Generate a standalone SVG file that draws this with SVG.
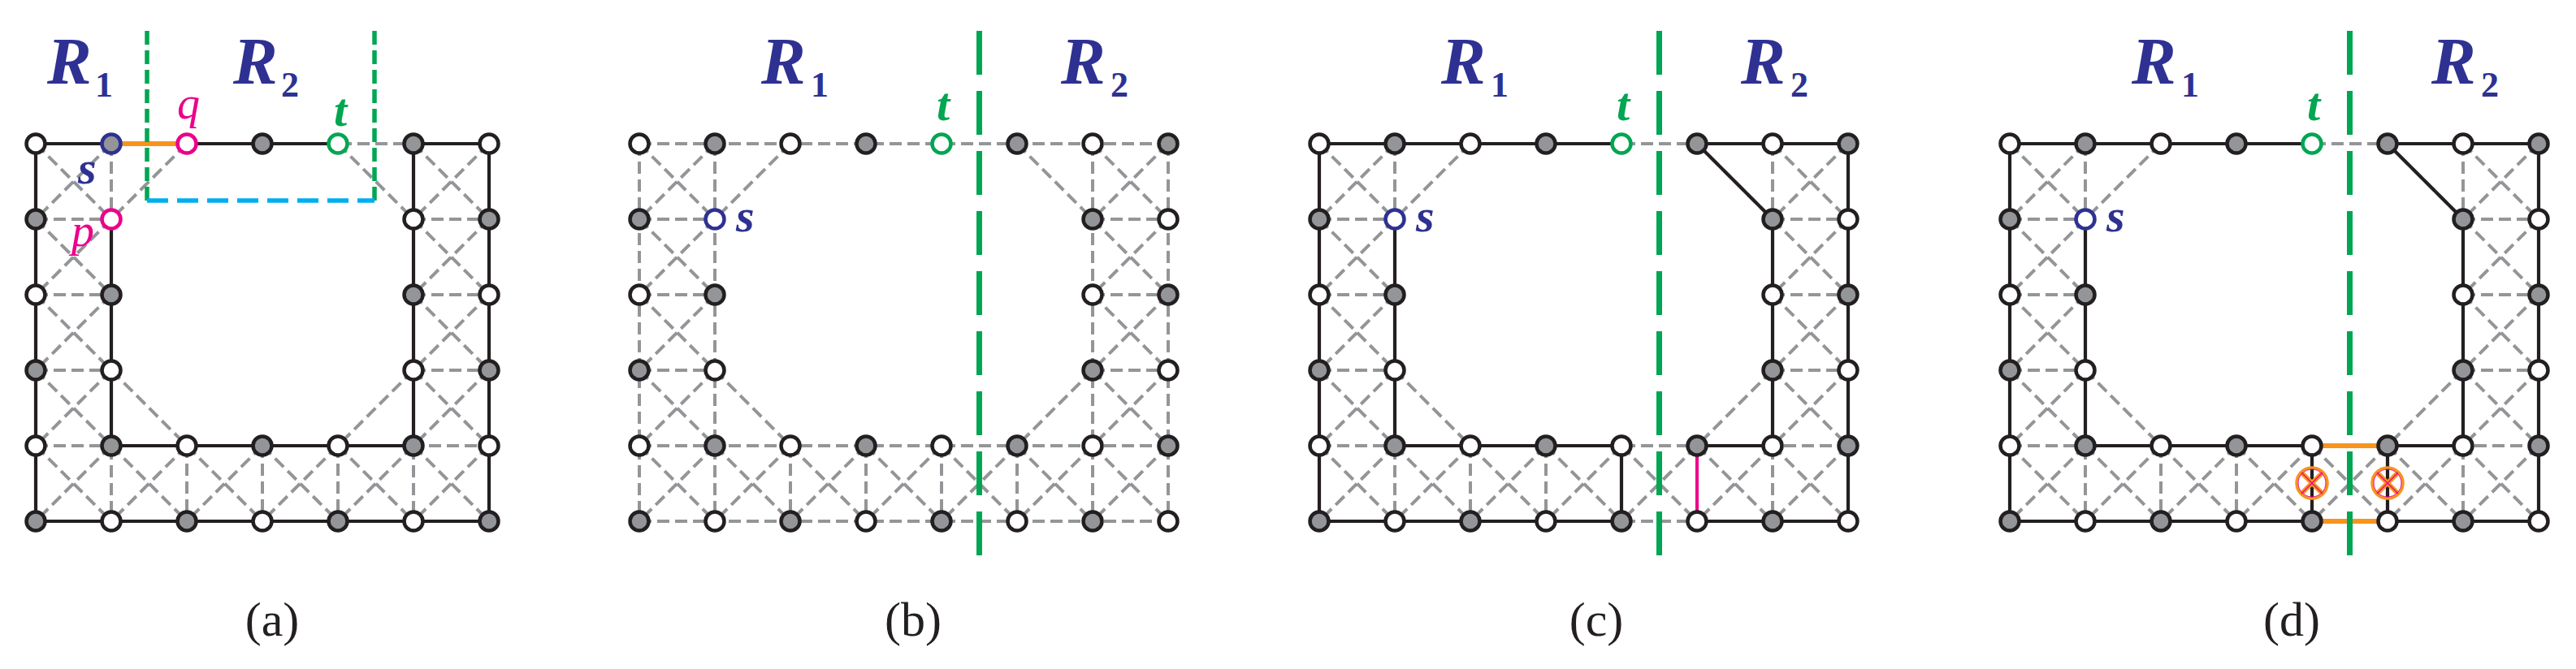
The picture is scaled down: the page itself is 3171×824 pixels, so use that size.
<svg xmlns="http://www.w3.org/2000/svg" width="3171" height="824" viewBox="0 0 3171 824">
<style>
.gr{fill:none;stroke:#939598;stroke-width:4;stroke-dasharray:15 7}
.bk{fill:none;stroke:#231f20;stroke-width:4.2}
.or{fill:none;stroke:#f7941d;stroke-width:6}
.pk{fill:none;stroke:#ec008c;stroke-width:4}
.grn{fill:none;stroke:#00a651;stroke-width:7;stroke-dasharray:54 20}
.grnA{fill:none;stroke:#00a651;stroke-width:5.5;stroke-dasharray:17 7}
.blu{fill:none;stroke:#00aeef;stroke-width:5.5;stroke-dasharray:26 11}
circle.w,circle.g{r:11.5;stroke:#231f20;stroke-width:4.5}
circle.w{fill:#fff}
circle.g{fill:#939598}
circle.sb{stroke:#2e3192}
circle.tg{stroke:#00a651}
circle.pq{stroke:#ec008c}
text{font-family:"Liberation Serif","Times New Roman",serif}
.R{font-size:82px;font-weight:bold;font-style:italic;fill:#2e3192}
.sub{font-size:44px;font-weight:bold;fill:#2e3192}
.lt{font-size:58px;font-weight:bold;font-style:italic;fill:#00a651}
.ls{font-size:58px;font-weight:bold;font-style:italic;fill:#2e3192}
.lp{font-size:56px;font-style:italic;fill:#ec008c}
.cap{font-size:60px;fill:#231f20;text-anchor:middle}
</style>
<defs>
<path id="mesh8" d="M0,0H651M0,93H93M558,93H651M0,186H93M558,186H651M0,279H93M558,279H651M0,372H651M0,465H651M0,0V465M93,0V465M558,0V465M651,0V465M186,372V465M279,372V465M372,372V465M465,372V465M0,0L93,93M93,0L0,93M0,93L93,186M93,93L0,186M0,186L93,279M93,186L0,279M0,279L93,372M93,279L0,372M0,372L93,465M93,372L0,465M558,0L651,93M651,0L558,93M558,93L651,186M651,93L558,186M558,186L651,279M651,186L558,279M558,279L651,372M651,279L558,372M558,372L651,465M651,372L558,465M93,372L186,465M186,372L93,465M186,372L279,465M279,372L186,465M279,372L372,465M372,372L279,465M372,372L465,465M465,372L372,465M465,372L558,465M558,372L465,465M186,0L93,93M465,0L558,93M93,279L186,372M558,279L465,372"/>
<path id="mesh7" d="M0,0H558M0,93H93M465,93H558M0,186H93M465,186H558M0,279H93M465,279H558M0,372H558M0,465H558M0,0V465M93,0V465M465,0V465M558,0V465M186,372V465M279,372V465M372,372V465M0,0L93,93M93,0L0,93M0,93L93,186M93,93L0,186M0,186L93,279M93,186L0,279M0,279L93,372M93,279L0,372M0,372L93,465M93,372L0,465M465,0L558,93M558,0L465,93M465,93L558,186M558,93L465,186M465,186L558,279M558,186L465,279M465,279L558,372M558,279L465,372M465,372L558,465M558,372L465,465M93,372L186,465M186,372L93,465M186,372L279,465M279,372L186,465M279,372L372,465M372,372L279,465M372,372L465,465M465,372L372,465M186,0L93,93M372,0L465,93M93,279L186,372M465,279L372,372"/>
</defs>

<!-- Panel (a) -->
<g id="panel-a" transform="translate(44,177)">
<g id="a-connectors">
<use href="#mesh7" class="gr"/>
<path class="bk" d="M0,0H93M186,0H372M465,0H558M0,0V465M93,93V372M93,372H465M0,465H558M465,0V372M558,0V465"/>
<path class="or" d="M93,0H186"/>
<path class="grnA" d="M137,-139V70M417,-139V70"/>
<path class="blu" d="M137,70H417"/>
</g>
<g id="a-nodes">
<g id="a-n00"><circle class="w" cx="0" cy="0"/></g>
<g id="a-s"><circle class="g sb" cx="93" cy="0"/></g>
<g id="a-q"><circle class="w pq" cx="186" cy="0"/></g>
<g id="a-n30"><circle class="g" cx="279" cy="0"/></g>
<g id="a-t"><circle class="w tg" cx="372" cy="0"/></g>
<g id="a-n50"><circle class="g" cx="465" cy="0"/></g>
<g id="a-n60"><circle class="w" cx="558" cy="0"/></g>
<g id="a-n01"><circle class="g" cx="0" cy="93"/></g>
<g id="a-p"><circle class="w pq" cx="93" cy="93"/></g>
<g id="a-n51"><circle class="w" cx="465" cy="93"/></g>
<g id="a-n61"><circle class="g" cx="558" cy="93"/></g>
<g id="a-n02"><circle class="w" cx="0" cy="186"/></g>
<g id="a-n12"><circle class="g" cx="93" cy="186"/></g>
<g id="a-n52"><circle class="g" cx="465" cy="186"/></g>
<g id="a-n62"><circle class="w" cx="558" cy="186"/></g>
<g id="a-n03"><circle class="g" cx="0" cy="279"/></g>
<g id="a-n13"><circle class="w" cx="93" cy="279"/></g>
<g id="a-n53"><circle class="w" cx="465" cy="279"/></g>
<g id="a-n63"><circle class="g" cx="558" cy="279"/></g>
<g id="a-n04"><circle class="w" cx="0" cy="372"/></g>
<g id="a-n14"><circle class="g" cx="93" cy="372"/></g>
<g id="a-n24"><circle class="w" cx="186" cy="372"/></g>
<g id="a-n34"><circle class="g" cx="279" cy="372"/></g>
<g id="a-n44"><circle class="w" cx="372" cy="372"/></g>
<g id="a-n54"><circle class="g" cx="465" cy="372"/></g>
<g id="a-n64"><circle class="w" cx="558" cy="372"/></g>
<g id="a-n05"><circle class="g" cx="0" cy="465"/></g>
<g id="a-n15"><circle class="w" cx="93" cy="465"/></g>
<g id="a-n25"><circle class="g" cx="186" cy="465"/></g>
<g id="a-n35"><circle class="w" cx="279" cy="465"/></g>
<g id="a-n45"><circle class="g" cx="372" cy="465"/></g>
<g id="a-n55"><circle class="w" cx="465" cy="465"/></g>
<g id="a-n65"><circle class="g" cx="558" cy="465"/></g>
</g>
</g>
<text class="R" x="58" y="103">R</text><text class="sub" x="117" y="119">1</text>
<text class="R" x="287" y="103">R</text><text class="sub" x="346" y="119">2</text>
<text class="lp" x="218" y="146">q</text>
<text class="lt" x="411" y="155">t</text>
<text class="ls" x="96" y="226">s</text>
<text class="lp" x="88" y="303">p</text>
<text class="cap" x="335" y="783">(a)</text>

<!-- Panels b, c, d -->
<g id="panel-b" transform="translate(787,177)">
<g id="b-connectors">
<use href="#mesh8" class="gr"/>
<path class="grn" d="M418.5,-139V511"/>
</g>
<g id="b-nodes">
<g id="b-n00"><circle class="w" cx="0" cy="0"/></g>
<g id="b-n10"><circle class="g" cx="93" cy="0"/></g>
<g id="b-n20"><circle class="w" cx="186" cy="0"/></g>
<g id="b-n30"><circle class="g" cx="279" cy="0"/></g>
<g id="b-t"><circle class="w tg" cx="372" cy="0"/></g>
<g id="b-n50"><circle class="g" cx="465" cy="0"/></g>
<g id="b-n60"><circle class="w" cx="558" cy="0"/></g>
<g id="b-n70"><circle class="g" cx="651" cy="0"/></g>
<g id="b-n01"><circle class="g" cx="0" cy="93"/></g>
<g id="b-s"><circle class="w sb" cx="93" cy="93"/></g>
<g id="b-n61"><circle class="g" cx="558" cy="93"/></g>
<g id="b-n71"><circle class="w" cx="651" cy="93"/></g>
<g id="b-n02"><circle class="w" cx="0" cy="186"/></g>
<g id="b-n12"><circle class="g" cx="93" cy="186"/></g>
<g id="b-n62"><circle class="w" cx="558" cy="186"/></g>
<g id="b-n72"><circle class="g" cx="651" cy="186"/></g>
<g id="b-n03"><circle class="g" cx="0" cy="279"/></g>
<g id="b-n13"><circle class="w" cx="93" cy="279"/></g>
<g id="b-n63"><circle class="g" cx="558" cy="279"/></g>
<g id="b-n73"><circle class="w" cx="651" cy="279"/></g>
<g id="b-n04"><circle class="w" cx="0" cy="372"/></g>
<g id="b-n14"><circle class="g" cx="93" cy="372"/></g>
<g id="b-n24"><circle class="w" cx="186" cy="372"/></g>
<g id="b-n34"><circle class="g" cx="279" cy="372"/></g>
<g id="b-n44"><circle class="w" cx="372" cy="372"/></g>
<g id="b-n54"><circle class="g" cx="465" cy="372"/></g>
<g id="b-n64"><circle class="w" cx="558" cy="372"/></g>
<g id="b-n74"><circle class="g" cx="651" cy="372"/></g>
<g id="b-n05"><circle class="g" cx="0" cy="465"/></g>
<g id="b-n15"><circle class="w" cx="93" cy="465"/></g>
<g id="b-n25"><circle class="g" cx="186" cy="465"/></g>
<g id="b-n35"><circle class="w" cx="279" cy="465"/></g>
<g id="b-n45"><circle class="g" cx="372" cy="465"/></g>
<g id="b-n55"><circle class="w" cx="465" cy="465"/></g>
<g id="b-n65"><circle class="g" cx="558" cy="465"/></g>
<g id="b-n75"><circle class="w" cx="651" cy="465"/></g>
</g>
<text class="R" x="150" y="-74">R</text><text class="sub" x="211" y="-58">1</text>
<text class="R" x="519" y="-74">R</text><text class="sub" x="580" y="-58">2</text>
<text class="lt" x="366" y="-29">t</text>
<text class="ls" x="119" y="108">s</text>
</g>
<text class="cap" x="1124" y="783">(b)</text>

<g id="panel-c" transform="translate(1624,177)">
<g id="c-connectors">
<use href="#mesh8" class="gr"/>
<path class="bk" d="M0,0H372M465,0H651M465,0L558,93M0,0V465M93,93V372M93,372H372M372,372V465M0,465H372M465,372H558M558,93V372M465,465H651M651,0V465"/>
<path class="pk" d="M465,372V465"/>
<path class="grn" d="M418.5,-139V511"/>
</g>
<g id="c-nodes">
<g id="c-n00"><circle class="w" cx="0" cy="0"/></g>
<g id="c-n10"><circle class="g" cx="93" cy="0"/></g>
<g id="c-n20"><circle class="w" cx="186" cy="0"/></g>
<g id="c-n30"><circle class="g" cx="279" cy="0"/></g>
<g id="c-t"><circle class="w tg" cx="372" cy="0"/></g>
<g id="c-n50"><circle class="g" cx="465" cy="0"/></g>
<g id="c-n60"><circle class="w" cx="558" cy="0"/></g>
<g id="c-n70"><circle class="g" cx="651" cy="0"/></g>
<g id="c-n01"><circle class="g" cx="0" cy="93"/></g>
<g id="c-s"><circle class="w sb" cx="93" cy="93"/></g>
<g id="c-n61"><circle class="g" cx="558" cy="93"/></g>
<g id="c-n71"><circle class="w" cx="651" cy="93"/></g>
<g id="c-n02"><circle class="w" cx="0" cy="186"/></g>
<g id="c-n12"><circle class="g" cx="93" cy="186"/></g>
<g id="c-n62"><circle class="w" cx="558" cy="186"/></g>
<g id="c-n72"><circle class="g" cx="651" cy="186"/></g>
<g id="c-n03"><circle class="g" cx="0" cy="279"/></g>
<g id="c-n13"><circle class="w" cx="93" cy="279"/></g>
<g id="c-n63"><circle class="g" cx="558" cy="279"/></g>
<g id="c-n73"><circle class="w" cx="651" cy="279"/></g>
<g id="c-n04"><circle class="w" cx="0" cy="372"/></g>
<g id="c-n14"><circle class="g" cx="93" cy="372"/></g>
<g id="c-n24"><circle class="w" cx="186" cy="372"/></g>
<g id="c-n34"><circle class="g" cx="279" cy="372"/></g>
<g id="c-n44"><circle class="w" cx="372" cy="372"/></g>
<g id="c-n54"><circle class="g" cx="465" cy="372"/></g>
<g id="c-n64"><circle class="w" cx="558" cy="372"/></g>
<g id="c-n74"><circle class="g" cx="651" cy="372"/></g>
<g id="c-n05"><circle class="g" cx="0" cy="465"/></g>
<g id="c-n15"><circle class="w" cx="93" cy="465"/></g>
<g id="c-n25"><circle class="g" cx="186" cy="465"/></g>
<g id="c-n35"><circle class="w" cx="279" cy="465"/></g>
<g id="c-n45"><circle class="g" cx="372" cy="465"/></g>
<g id="c-n55"><circle class="w" cx="465" cy="465"/></g>
<g id="c-n65"><circle class="g" cx="558" cy="465"/></g>
<g id="c-n75"><circle class="w" cx="651" cy="465"/></g>
</g>
<text class="R" x="150" y="-74">R</text><text class="sub" x="211" y="-58">1</text>
<text class="R" x="519" y="-74">R</text><text class="sub" x="580" y="-58">2</text>
<text class="lt" x="366" y="-29">t</text>
<text class="ls" x="119" y="108">s</text>
</g>
<text class="cap" x="1965" y="783">(c)</text>

<g id="panel-d" transform="translate(2474,177)">
<g id="d-connectors">
<use href="#mesh8" class="gr"/>
<path class="bk" d="M0,0H372M465,0H651M465,0L558,93M0,0V465M93,93V372M93,372H372M372,372V465M0,465H372M465,372H558M558,93V372M465,465H651M651,0V465M465,372V465"/>
<path class="or" d="M372,372H465M372,465H465"/>
<path class="grn" d="M418.5,-139V511"/>
</g>
<g id="d-nodes">
<g id="d-n00"><circle class="w" cx="0" cy="0"/></g>
<g id="d-n10"><circle class="g" cx="93" cy="0"/></g>
<g id="d-n20"><circle class="w" cx="186" cy="0"/></g>
<g id="d-n30"><circle class="g" cx="279" cy="0"/></g>
<g id="d-t"><circle class="w tg" cx="372" cy="0"/></g>
<g id="d-n50"><circle class="g" cx="465" cy="0"/></g>
<g id="d-n60"><circle class="w" cx="558" cy="0"/></g>
<g id="d-n70"><circle class="g" cx="651" cy="0"/></g>
<g id="d-n01"><circle class="g" cx="0" cy="93"/></g>
<g id="d-s"><circle class="w sb" cx="93" cy="93"/></g>
<g id="d-n61"><circle class="g" cx="558" cy="93"/></g>
<g id="d-n71"><circle class="w" cx="651" cy="93"/></g>
<g id="d-n02"><circle class="w" cx="0" cy="186"/></g>
<g id="d-n12"><circle class="g" cx="93" cy="186"/></g>
<g id="d-n62"><circle class="w" cx="558" cy="186"/></g>
<g id="d-n72"><circle class="g" cx="651" cy="186"/></g>
<g id="d-n03"><circle class="g" cx="0" cy="279"/></g>
<g id="d-n13"><circle class="w" cx="93" cy="279"/></g>
<g id="d-n63"><circle class="g" cx="558" cy="279"/></g>
<g id="d-n73"><circle class="w" cx="651" cy="279"/></g>
<g id="d-n04"><circle class="w" cx="0" cy="372"/></g>
<g id="d-n14"><circle class="g" cx="93" cy="372"/></g>
<g id="d-n24"><circle class="w" cx="186" cy="372"/></g>
<g id="d-n34"><circle class="g" cx="279" cy="372"/></g>
<g id="d-n44"><circle class="w" cx="372" cy="372"/></g>
<g id="d-n54"><circle class="g" cx="465" cy="372"/></g>
<g id="d-n64"><circle class="w" cx="558" cy="372"/></g>
<g id="d-n74"><circle class="g" cx="651" cy="372"/></g>
<g id="d-n05"><circle class="g" cx="0" cy="465"/></g>
<g id="d-n15"><circle class="w" cx="93" cy="465"/></g>
<g id="d-n25"><circle class="g" cx="186" cy="465"/></g>
<g id="d-n35"><circle class="w" cx="279" cy="465"/></g>
<g id="d-n45"><circle class="g" cx="372" cy="465"/></g>
<g id="d-n55"><circle class="w" cx="465" cy="465"/></g>
<g id="d-n65"><circle class="g" cx="558" cy="465"/></g>
<g id="d-n75"><circle class="w" cx="651" cy="465"/></g>
</g>
<g id="d-x1">
<circle cx="372" cy="418" r="19" fill="none" stroke="#f7941d" stroke-width="3.5"/>
<path d="M359,405L385,431M385,405L359,431" stroke="#f7941d" stroke-width="6"/>
<path d="M359,405L385,431M385,405L359,431" stroke="#ec008c" stroke-width="1.2"/>
<circle cx="372" cy="418" r="17" fill="none" stroke="#ec008c" stroke-width="1"/>
</g>
<g id="d-x2">
<circle cx="465" cy="418" r="19" fill="none" stroke="#f7941d" stroke-width="3.5"/>
<path d="M452,405L478,431M478,405L452,431" stroke="#f7941d" stroke-width="6"/>
<path d="M452,405L478,431M478,405L452,431" stroke="#ec008c" stroke-width="1.2"/>
<circle cx="465" cy="418" r="17" fill="none" stroke="#ec008c" stroke-width="1"/>
</g>
<text class="R" x="150" y="-74">R</text><text class="sub" x="211" y="-58">1</text>
<text class="R" x="519" y="-74">R</text><text class="sub" x="580" y="-58">2</text>
<text class="lt" x="366" y="-29">t</text>
<text class="ls" x="119" y="108">s</text>
</g>
<text class="cap" x="2821" y="783">(d)</text>
</svg>
